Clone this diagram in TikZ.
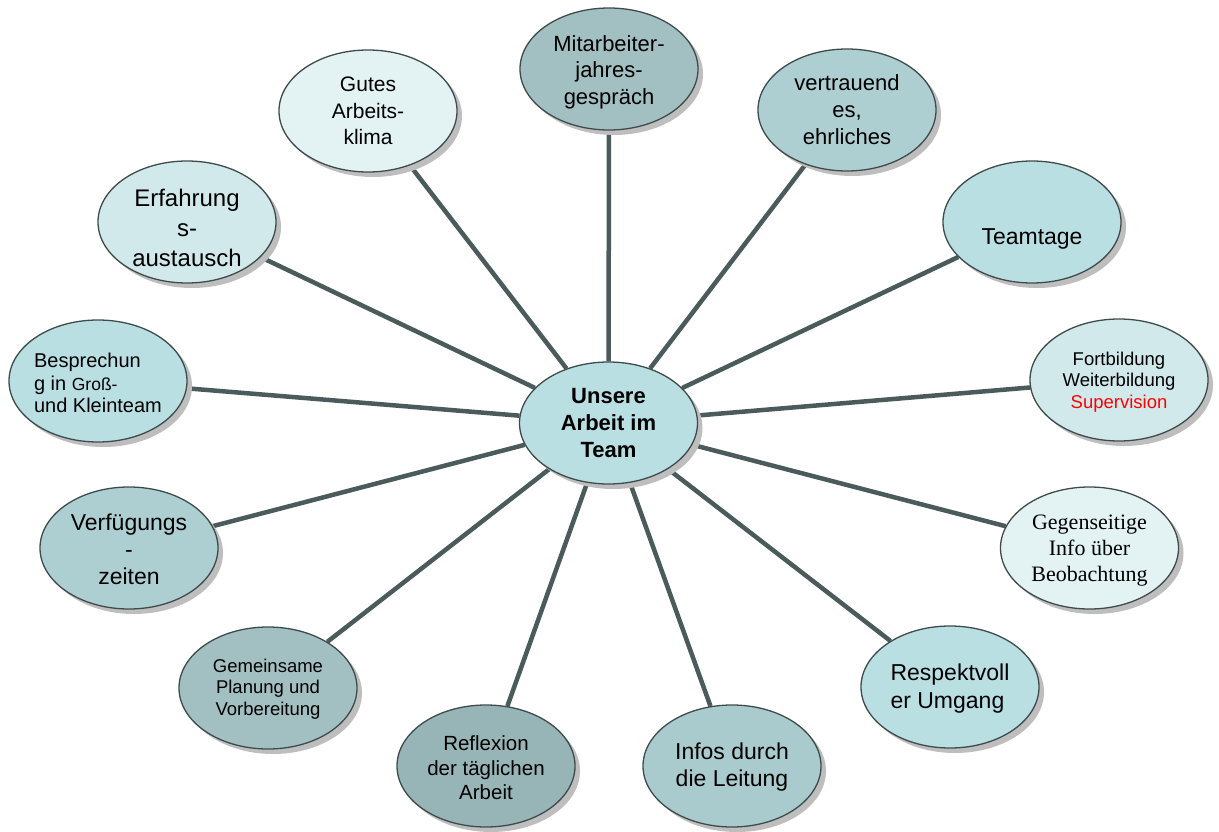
\documentclass[tikz,border=0pt]{standalone}
\usepackage{fontspec}
\setmainfont{Liberation Sans}
\newfontfamily\timesfont{Liberation Serif}
\usetikzlibrary{shapes.geometric,shadows,backgrounds}
\definecolor{fLight}{HTML}{E3F3F4}
\definecolor{fPale}{HTML}{D1E9EB}
\definecolor{fBlue}{HTML}{B9DFE3}
\definecolor{fMid}{HTML}{ADCFD1}
\definecolor{fGrey}{HTML}{A2C0C2}
\definecolor{fDark}{HTML}{97B4B6}
\definecolor{fInfo}{HTML}{A9CBCD}
\definecolor{spokeCol}{HTML}{4B5B5B}
\definecolor{rimCol}{HTML}{3F4B4B}
\definecolor{shadowCol}{HTML}{BEBEBE}
\newcommand\fsz[2]{\fontsize{#1}{#2}\selectfont}
\tikzset{
  bubble/.style={ellipse, draw=rimCol, line width=1.3pt, minimum width=178pt, minimum height=122pt, inner sep=0pt,
    drop shadow={shadow xshift=5pt, shadow yshift=-5pt, fill=shadowCol, opacity=1}},
  txt/.style={align=center, inner sep=0pt, text=black},
  spoke/.style={draw=spokeCol, line width=4.5pt}
}
\begin{document}
\begin{tikzpicture}[x=1pt,y=-1pt]
\useasboundingbox (0,0) rectangle (1219,832);
% bubbles
\node[bubble, fill=fBlue] (c) at (608.5,423) {};
\node[bubble, fill=fGrey] (mit) at (609,69) {};
\node[bubble, fill=fLight] (gut) at (368,111) {};
\node[bubble, fill=fMid] (ver) at (847,110) {};
\node[bubble, fill=fPale] (erf) at (187,222) {};
\node[bubble, fill=fBlue] (tea) at (1032,222) {};
\node[bubble, fill=fBlue] (bes) at (98,381) {};
\node[bubble, fill=fPale] (fort) at (1119,380) {};
\node[bubble, fill=fMid] (verf) at (129,548) {};
\node[bubble, fill=fLight] (geg) at (1089.5,548) {};
\node[bubble, fill=fGrey] (gem) at (268,688) {};
\node[bubble, fill=fBlue] (res) at (950,687) {};
\node[bubble, fill=fDark] (ref) at (486,766) {};
\node[bubble, fill=fInfo] (inf) at (732,766) {};
% texts
\node[txt, font=\fsz{22}{27}\bfseries] (ct) at (c) {Unsere\\Arbeit im\\Team};
\node[txt, font=\fsz{22}{26.5}, yshift=-3pt] (mitt) at (mit) {Mitarbeiter-\\jahres-\\gespräch};
\node[txt, font=\fsz{21}{26.5}] (gutt) at (gut) {Gutes\\Arbeits-\\klima};
\node[txt, font=\fsz{22}{27}] (vert) at (ver) {vertrauend\\es,\\ehrliches};
\node[txt, font=\fsz{24}{30}, yshift=-6pt] (erft) at (erf) {Erfahrung\\s-\\austausch};
\node[txt, font=\fsz{23}{27}, yshift=-17pt] (teat) at (tea) {Teamtage};
\node[txt, align=left, font=\fsz{20}{22.5}, yshift=-2pt] (best) at (bes) {Besprechun\\g in {\fsz{17.5}{22.5}Groß-}\\und Kleinteam};
\node[txt, font=\fsz{18.5}{21.5}, yshift=-2pt] (fortt) at (fort) {Fortbildung\\Weiterbildung\\\textcolor{red}{Supervision}};
\node[txt, font=\fsz{23}{27}, yshift=-1pt] (verft) at (verf) {Verfügungs\\-\\zeiten};
\node[txt, font=\timesfont\fsz{22}{26}, yshift=-3pt] (gegt) at (geg) {Gegenseitige\\Info über\\Beobachtung};
\node[txt, font=\fsz{18.5}{21.5}, yshift=-1pt] (gemt) at (gem) {Gemeinsame\\Planung und\\Vorbereitung};
\node[txt, align=left, font=\fsz{23}{28}, yshift=-2pt] (rest) at (res) {Respektvoll\\er Umgang};
\node[txt, font=\fsz{20.5}{24.5}, yshift=-2pt] (reft) at (ref) {Reflexion\\der täglichen\\Arbeit};
\node[txt, font=\fsz{23}{27}, yshift=-1pt] (inft) at (inf) {Infos durch\\die Leitung};
% spokes
\begin{pgfonlayer}{background}
\foreach \n in {mit,gut,ver,erf,tea,bes,fort,verf,geg,gem,res,ref,inf}
  \draw[spoke] (c) -- (\n);
\end{pgfonlayer}
\end{tikzpicture}
\end{document}
